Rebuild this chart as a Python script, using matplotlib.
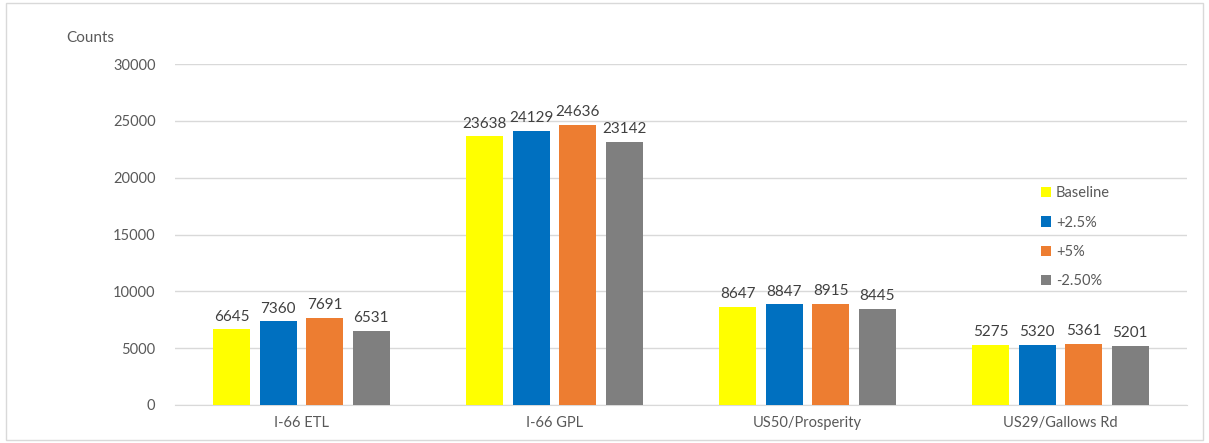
import numpy as np
import matplotlib.pyplot as plt
from matplotlib.patches import Rectangle

plt.rcParams["font.family"] = ["Lato", "DejaVu Sans"]

categories = ["I-66 ETL", "I-66 GPL", "US50/Prosperity", "US29/Gallows Rd"]
series_names = ["Baseline", "+2.5%", "+5%", "-2.50%"]
baseline = [6645, 23638, 8647, 5275]
plus_25 = [7360, 24129, 8847, 5320]
plus_5 = [7691, 24636, 8915, 5361]
minus_25 = [6531, 23142, 8445, 5201]
colors = ["#FFFF00", "#0070C0", "#ED7D31", "#7F7F7F"]
text_color = "#595959"

fig = plt.figure(figsize=(12.09, 4.43), dpi=100)
ax = fig.add_axes([0.1447, 0.0858, 0.8371, 0.7697])

# light frame around the whole chart
fig.patches.append(Rectangle((0.005, 0.007), 0.99, 0.986, transform=fig.transFigure,
                             fill=False, edgecolor="#d9d9d9", linewidth=1.0))

x = np.arange(len(categories))
width = 0.146
step = 0.184
for i, (vals, name) in enumerate(zip([baseline, plus_25, plus_5, minus_25], series_names)):
    pos = x + (i - 1.5) * step
    bars = ax.bar(pos, vals, width=width, color=colors[i], label=name, zorder=3)
    for bar, v in zip(bars, vals):
        ax.text(bar.get_x() + bar.get_width() / 2, v + 500, str(v),
                ha="center", va="bottom", fontsize=11, color="#404040")

ax.set_xlim(-0.5, 3.5)
ax.set_ylim(0, 30000)
ax.set_yticks(np.arange(0, 30001, 5000))
ax.set_xticks(x)
ax.set_xticklabels(categories)
ax.yaxis.grid(True, color="#d9d9d9", linewidth=1.0, zorder=0)
ax.tick_params(axis="both", length=0, labelsize=10.5, colors=text_color, pad=14)
ax.tick_params(axis="x", pad=8)
for side in ["top", "right", "left"]:
    ax.spines[side].set_visible(False)
ax.spines["bottom"].set_color("#d9d9d9")

fig.text(0.055, 0.915, "Counts", fontsize=11, color=text_color, ha="left", va="center")

leg = ax.legend(loc="upper left", bbox_to_anchor=(0.843, 0.68), frameon=False,
                handlelength=0.7, handleheight=0.7, handletextpad=0.3,
                labelspacing=1.05, fontsize=10.5)
for t in leg.get_texts():
    t.set_color(text_color)

fig.savefig("out.png", dpi=100)
